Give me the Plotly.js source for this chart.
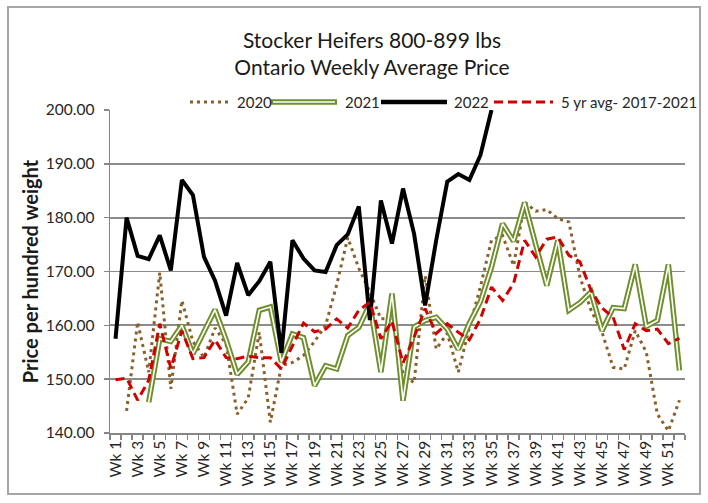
<!DOCTYPE html>
<html>
<head>
<meta charset="utf-8">
<script src="https://cdn.plot.ly/plotly-3.0.1.min.js"></script>
<style>
html,body{margin:0;padding:0;background:#fff;}
#chart{width:708px;height:503px;}
</style>
</head>
<body>
<div id="chart"></div>
<script>
const weeks = ['Wk 1','Wk 2','Wk 3','Wk 4','Wk 5','Wk 6','Wk 7','Wk 8','Wk 9','Wk 10',
  'Wk 11','Wk 12','Wk 13','Wk 14','Wk 15','Wk 16','Wk 17','Wk 18','Wk 19','Wk 20',
  'Wk 21','Wk 22','Wk 23','Wk 24','Wk 25','Wk 26','Wk 27','Wk 28','Wk 29','Wk 30',
  'Wk 31','Wk 32','Wk 33','Wk 34','Wk 35','Wk 36','Wk 37','Wk 38','Wk 39','Wk 40',
  'Wk 41','Wk 42','Wk 43','Wk 44','Wk 45','Wk 46','Wk 47','Wk 48','Wk 49','Wk 50',
  'Wk 51','Wk 52'];

const tickLabels = ['Wk 1','','Wk 3','','Wk 5','','Wk 7','','Wk 9','',
  'Wk 11','','Wk 13','','Wk 15','','Wk 17','','Wk 19','',
  'Wk 21','','Wk 23','','Wk 25','','Wk 27','','Wk 29','',
  'Wk 31','','Wk 33','','Wk 35','','Wk 37','','Wk 39','',
  'Wk 41','','Wk 43','','Wk 45','','Wk 47','','Wk 49','',
  'Wk 51',''];

const y2020 = [null,144.1,160.6,151.3,169.8,148.2,164.6,157.0,154.0,159.5,
  156.5,143.5,146.5,158.7,142.0,152.5,153.1,154.4,157.0,160.0,
  167.5,176.3,170.6,166.2,161.2,161.2,151.0,149.3,169.2,155.6,
  158.5,151.3,159.6,167.2,175.8,176.7,171.1,182.9,181.2,181.5,
  179.8,179.2,169.0,162.8,158.7,152.2,151.9,159.0,155.0,143.5,
  140.4,146.1];

const y2021 = [null,null,null,145.7,157.5,157.0,160.0,154.7,158.7,162.9,
  157.3,150.9,153.2,162.8,163.4,153.2,158.4,157.7,148.8,152.5,
  151.9,158.1,159.6,164.0,151.3,165.9,146.0,159.7,160.9,161.5,
  159.3,155.5,160.4,164.4,170.8,178.9,175.6,182.8,175.0,167.4,
  175.8,162.8,164.2,166.2,159.0,163.3,163.1,171.3,159.8,160.9,
  171.3,151.6];

const y2022 = [157.5,180.0,172.9,172.3,176.7,170.2,187.0,184.2,172.7,168.3,
  161.8,171.6,165.6,168.2,171.8,154.9,175.8,172.4,170.2,169.9,
  174.9,176.9,182.1,161.0,183.2,175.2,185.4,177.0,163.7,175.8,
  186.7,188.1,187.0,191.6,200.0];

const yAvg = [149.9,150.2,146.1,149.8,160.3,152.0,159.0,153.8,154.0,157.3,
  154.0,153.8,154.3,154.0,154.0,151.9,156.2,160.4,158.8,159.3,
  161.2,159.5,162.8,164.3,157.5,160.8,153.0,157.8,163.1,158.5,
  160.3,158.7,157.3,161.2,167.1,164.6,167.8,175.8,172.7,176.0,
  176.4,173.0,171.8,166.5,163.2,161.5,155.5,160.3,159.0,159.3,
  156.6,157.6];

const seriesNames = ['2020','2021','2022','5 yr avg- 2017-2021'];

const C2020 = '#8a5f2a', C2021 = '#6f8f2c', C2022 = '#000000', CAVG = '#d00000';
const FONT = 'Lato, "Open Sans", sans-serif';

const traces = [
  {x: weeks.slice(0, y2020.length), y: y2020, name: seriesNames[0], type:'scatter', mode:'lines',
   line:{color:C2020, width:3, dash:'3px,4px'}, showlegend:false},
  {x: weeks.slice(0, y2021.length), y: y2021, name: seriesNames[1], type:'scatter', mode:'lines',
   line:{color:C2021, width:5.5}, showlegend:false},
  {x: weeks.slice(0, y2021.length), y: y2021, name: seriesNames[1]+' inner', type:'scatter', mode:'lines',
   line:{color:'#ffffff', width:1.6}, showlegend:false, hoverinfo:'skip'},
  {x: weeks.slice(0, y2022.length), y: y2022, name: seriesNames[2], type:'scatter', mode:'lines',
   line:{color:C2022, width:4}, showlegend:false},
  {x: weeks.slice(0, yAvg.length), y: yAvg, name: seriesNames[3], type:'scatter', mode:'lines',
   line:{color:CAVG, width:3, dash:'9px,5px'}, showlegend:false}
];

// plot area in px: left 110, right 685, top 110, bottom 433
const PL=110, PR=685, PT=110, PB=433;
const px = v => (v-PL)/(PR-PL);
const py = v => (PB-v)/(PB-PT);
const LEGY = py(102);

const shapes = [
  {type:'rect', xref:'paper', yref:'paper', x0:px(8), x1:px(700), y0:py(494), y1:py(7),
   line:{color:'#a6a6a6', width:2}, fillcolor:'rgba(0,0,0,0)', layer:'below'},
  {type:'line', xref:'paper', yref:'paper', x0:px(190), x1:px(229), y0:LEGY, y1:LEGY,
   line:{color:C2020, width:3, dash:'3px,4px'}},
  {type:'line', xref:'paper', yref:'paper', x0:px(271), x1:px(337), y0:LEGY, y1:LEGY,
   line:{color:C2021, width:5.5}},
  {type:'line', xref:'paper', yref:'paper', x0:px(273), x1:px(335), y0:LEGY, y1:LEGY,
   line:{color:'#ffffff', width:1.6}},
  {type:'line', xref:'paper', yref:'paper', x0:px(381), x1:px(447), y0:LEGY, y1:LEGY,
   line:{color:C2022, width:4.5}},
  {type:'line', xref:'paper', yref:'paper', x0:px(494), x1:px(553), y0:LEGY, y1:LEGY,
   line:{color:CAVG, width:3, dash:'9px,5px'}}
];

const legX = [235, 343, 452, 559];
const annotations = seriesNames.map((n,i)=>({
  text:n, xref:'paper', yref:'paper', x:px(legX[i]), y:LEGY, xanchor:'left', yanchor:'middle',
  showarrow:false, font:{family:FONT, size:15, color:'#262626'}, bgcolor:'rgba(255,255,255,0)'
}));

const layout = {
  width:708, height:503,
  margin:{l:PL, r:708-PR, t:PT, b:503-PB, pad:0},
  paper_bgcolor:'#ffffff', plot_bgcolor:'#ffffff',
  font:{family:FONT, size:15, color:'#262626'},
  title:{text:'Stocker Heifers 800-899 lbs<br>Ontario Weekly Average Price',
    xref:'container', x:372/708, xanchor:'center', yref:'container', y:1-48/503, yanchor:'middle',
    font:{family:FONT, size:21, color:'#1a1a1a'}},
  showlegend:false,
  xaxis:{type:'category', tickmode:'array', tickvals:weeks, ticktext:tickLabels,
    tickson:'boundaries', ticks:'outside', ticklen:5, tickcolor:'#868686', tickwidth:1.5,
    tickangle:-90, showline:true, linecolor:'#868686', linewidth:1.5, showgrid:false,
    tickfont:{family:FONT, size:15.5, color:'#262626'}, range:[-0.5,51.5], automargin:false, zeroline:false},
  yaxis:{range:[140,200], dtick:10, tick0:140, tickformat:'.2f', ticks:'outside', ticklen:5,
    tickcolor:'#868686', tickwidth:1.5, showline:true, linecolor:'#868686', linewidth:1.5,
    showgrid:true, gridcolor:'#8c8c8c', gridwidth:1.8, zeroline:false, ticklabelstandoff:6,
    tickfont:{family:FONT, size:15.5, color:'#262626'},
    title:{text:'Price per hundred weight', standoff:2, font:{family:FONT, size:20, color:'#1a1a1a', weight:'bold'}},
    automargin:false},
  shapes:shapes,
  annotations:annotations
};

Plotly.newPlot('chart', traces, layout, {staticPlot:true, displayModeBar:false});
</script>
</body>
</html>
